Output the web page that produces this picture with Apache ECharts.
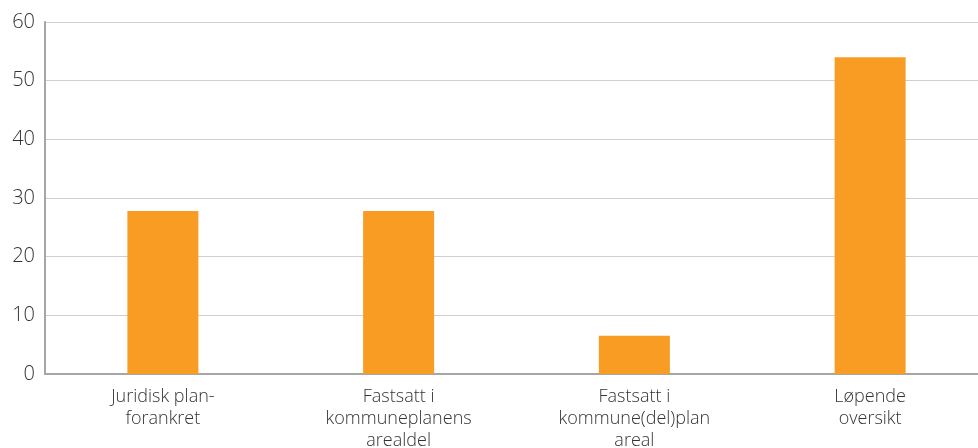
<!DOCTYPE html>
<html><head><meta charset="utf-8">
<script src="https://cdn.jsdelivr.net/npm/echarts@6/dist/echarts.min.js"></script>
<style>html,body{margin:0;padding:0;background:#fff}#c{width:978px;height:448px}</style>
</head><body><div id="c"></div>
<script>
const categories = ["Juridisk plan-\nforankret", "Fastsatt i\nkommuneplanens\narealdel", "Fastsatt i\nkommune(del)plan\nareal", "Løpende\noversikt"];
const values = [27.8, 27.8, 6.5, 54];
const chart = echarts.init(document.getElementById('c'));
chart.setOption({
  animation: false,
  grid: {left: 45, top: 22, width: 943, height: 352, outerBoundsMode: 'none', containLabel: false},
  xAxis: {
    type: 'category', data: categories,
    axisLine: {lineStyle: {color: '#a8a6a5', width: 2}},
    axisTick: {show: false},
    axisLabel: {color: '#333', fontFamily: 'Open Sans', fontWeight: 300, fontSize: 18, lineHeight: 22, margin: 12}
  },
  yAxis: {
    type: 'value', min: 0, max: 60, interval: 10,
    axisLine: {show: true, lineStyle: {color: '#a8a6a5', width: 2}},
    axisTick: {show: false},
    splitLine: {lineStyle: {color: '#cfcfcf', width: 1}},
    axisLabel: {color: '#333', fontFamily: 'Open Sans', fontWeight: 300, fontSize: 20, margin: 10}
  },
  series: [{type: 'bar', data: values, barWidth: 71, itemStyle: {color: '#f89c24'}}]
});
</script></body></html>
